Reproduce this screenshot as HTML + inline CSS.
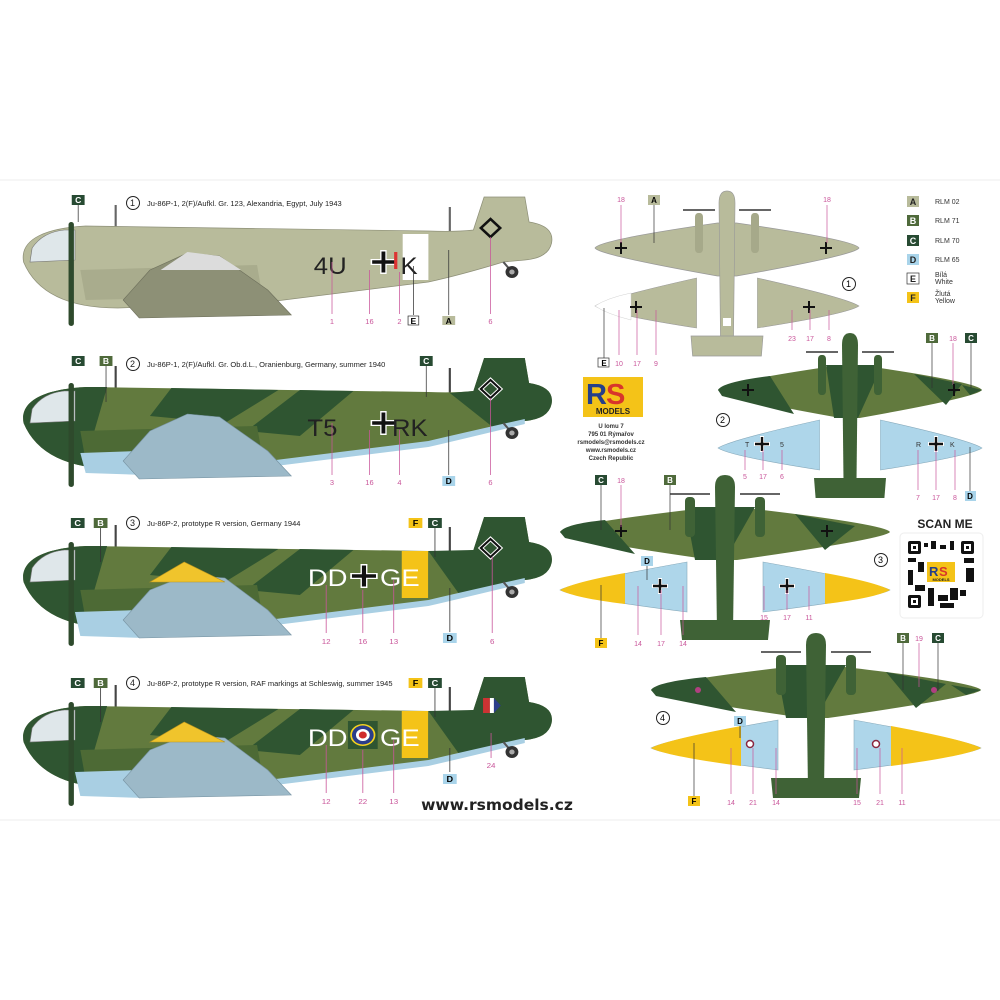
<!DOCTYPE html>
<html><head><meta charset="utf-8"><style>
html,body{margin:0;padding:0;background:#fff}
svg{display:block}
text{font-family:"Liberation Sans",sans-serif}
.t{font-size:7.5px;fill:#222}
.n{font-size:7px;fill:#c9559a;text-anchor:middle}
.lt{font-size:8px;font-weight:bold;text-anchor:middle;fill:#fff}
.ld{stroke:#c9559a;stroke-width:0.7}
.lk{stroke:#333;stroke-width:0.7}
</style></head><body>
<svg width="1000" height="1000" viewBox="0 0 1000 1000" xmlns="http://www.w3.org/2000/svg">
<rect width="1000" height="1000" fill="#fff"/>
<line x1="0" y1="180" x2="1000" y2="180" stroke="#eee"/>
<line x1="0" y1="820" x2="1000" y2="820" stroke="#eee"/>
<defs>
<symbol id="cross" viewBox="-12 -12 24 24" overflow="visible">
<path d="M-3,-12h6v9h9v6h-9v9h-6v-9h-9v-6h9z" fill="#fff"/>
<path d="M-1.8,-10.5h3.6v8.7h8.7v3.6h-8.7v8.7h-3.6v-8.7h-8.7v-3.6h8.7z" fill="#111"/>
</symbol>
<symbol id="sx" viewBox="-6 -6 12 12" overflow="visible">
<path d="M-1,-6h2v5h5v2h-5v5h-2v-5h-5v-2h5z" fill="#111"/>
</symbol>
<path id="body" d="M22,262 C18,238 45,228 80,226 L400,231 Q425,232 442,230 L452,197 L490,197 L494,222 Q518,226 515,243 Q512,258 490,260 L470,262 Q430,275 400,282 L250,302 L110,308 Q40,308 22,262 Z"/>
</defs>

<g transform="scale(1.071,1)">
<g>
<line x1="108" y1="205" x2="108" y2="230" stroke="#666" stroke-width="2"/>
<line x1="420" y1="207" x2="420" y2="232" stroke="#666" stroke-width="2"/>
<use href="#body" fill="#b8bb9b" stroke="#8e9078" stroke-width="0.7"/>
<path d="M30,248 Q40,232 60,230 L70,230 L70,260 L28,262 Z" fill="#dfe7ea" stroke="#777" stroke-width="0.6"/>
<rect x="376" y="234" width="24" height="46" fill="#fff"/>
<path d="M75,270 L240,265 L245,296 L80,300 Z" fill="#a9ac8d"/>
<path d="M115,300 L140,270 L175,253 L205,256 L250,290 L272,315 L130,318 Z" fill="#8d9076" stroke="#6e705c" stroke-width="0.6"/>
<path d="M150,270 L175,252 L205,256 L225,270 Z" fill="#dcdcdc"/>
<rect x="64" y="222" width="5" height="104" rx="2.5" fill="#2e4a2c"/>
<line x1="470" y1="262" x2="478" y2="272" stroke="#555" stroke-width="2"/>
<circle cx="478" cy="272" r="6" fill="#333"/><circle cx="478" cy="272" r="2.5" fill="#aaa"/>
<path d="M449,228 l9,-9 l9,9 l-9,9 z" fill="none" stroke="#111" stroke-width="2.5"/>
<text x="293" y="274" font-size="24" fill="#222">4U</text>
<use href="#cross" x="346" y="250" width="24" height="24"/>
<rect x="368" y="252" width="3" height="17" fill="#d33"/>
<text x="374" y="274" font-size="24" fill="#222">K</text>
</g>
<g transform="translate(0,161)">
<line x1="108" y1="205" x2="108" y2="230" stroke="#444" stroke-width="2"/>
<line x1="420" y1="207" x2="420" y2="232" stroke="#444" stroke-width="2"/>
<use href="#body" fill="#627a3e"/>
<path d="M22,262 C18,238 45,228 80,226 L100,226 L80,300 L110,308 Q40,308 22,262Z M160,227 L260,229 L210,262 L140,255Z M280,229 L330,230 L280,275 L230,270Z M420,232 L442,230 L452,197 L490,197 L494,222 Q518,226 515,243 Q512,258 490,260 L460,266 Z" fill="#2f5531"/>
<path d="M250,300 L400,280 Q440,270 490,258 L490,263 Q440,276 400,286 L250,306 Z" fill="#a9cfe3"/>
<path d="M30,248 Q40,232 60,230 L70,230 L70,260 L28,262 Z" fill="#dfe7ea" stroke="#777" stroke-width="0.6"/>
<path d="M75,270 L240,265 L245,296 L80,300 Z" fill="#4d6a35"/>
<path d="M75,292 L130,290 L135,314 L80,312 Z" fill="#a9cfe3"/>
<path d="M115,300 L140,270 L175,253 L205,256 L250,290 L272,315 L130,318 Z" fill="#9cb9c8" stroke="#7793a2" stroke-width="0.6"/>
<rect x="64" y="222" width="5" height="104" rx="2.5" fill="#2e4a2c"/>
<line x1="470" y1="262" x2="478" y2="272" stroke="#555" stroke-width="2"/>
<circle cx="478" cy="272" r="6" fill="#333"/><circle cx="478" cy="272" r="2.5" fill="#aaa"/>
<path d="M449,228 l9,-9 l9,9 l-9,9 z" fill="none" stroke="#fff" stroke-width="4"/>
<path d="M449,228 l9,-9 l9,9 l-9,9 z" fill="none" stroke="#111" stroke-width="2"/>
<text x="287" y="275" font-size="24" fill="#222">T5</text>
<use href="#cross" x="346" y="250" width="24" height="24"/>
<text x="366" y="275" font-size="24" fill="#222">RK</text>
</g>
<rect x="67" y="195" width="12" height="10" fill="#274a32"/><text class="lt" x="73" y="203">C</text>
<line class="lk" x1="73" y1="205" x2="73" y2="222"/>
<line class="ld" x1="310" y1="262" x2="310" y2="314"/><text class="n" x="310" y="324">1</text>
<line class="ld" x1="345" y1="270" x2="345" y2="314"/><text class="n" x="345" y="324">16</text>
<line class="ld" x1="373" y1="272" x2="373" y2="314"/><text class="n" x="373" y="324">2</text>
<line class="lk" x1="386" y1="266" x2="386" y2="315"/><rect x="381" y="316" width="10" height="9" fill="#fff" stroke="#333" stroke-width="0.7"/><text x="386" y="324" font-size="8" font-weight="bold" text-anchor="middle">E</text>
<line class="lk" x1="419" y1="250" x2="419" y2="315"/><rect x="413" y="316" width="12" height="9" fill="#b8bb9b"/><text x="419" y="324" font-size="8" font-weight="bold" text-anchor="middle">A</text>
<line class="ld" x1="458" y1="237" x2="458" y2="314"/><text class="n" x="458" y="324">6</text>
<rect x="67" y="356" width="12" height="10" fill="#274a32"/><text class="lt" x="73" y="364">C</text>
<rect x="93" y="356" width="12" height="10" fill="#4f6a3b"/><text class="lt" x="99" y="364">B</text>
<line class="lk" x1="99" y1="366" x2="99" y2="402"/>
<rect x="392" y="356" width="12" height="10" fill="#274a32"/><text class="lt" x="398" y="364">C</text>
<line class="lk" x1="398" y1="366" x2="398" y2="397"/>
<line class="ld" x1="310" y1="423" x2="310" y2="475"/><text class="n" x="310" y="485">3</text>
<line class="ld" x1="345" y1="430" x2="345" y2="475"/><text class="n" x="345" y="485">16</text>
<line class="ld" x1="373" y1="430" x2="373" y2="475"/><text class="n" x="373" y="485">4</text>
<line class="lk" x1="419" y1="430" x2="419" y2="475"/><rect x="413" y="476" width="12" height="10" fill="#a9d4ea"/><text x="419" y="484" font-size="8" font-weight="bold" text-anchor="middle">D</text>
<line class="ld" x1="458" y1="398" x2="458" y2="475"/><text class="n" x="458" y="485">6</text>
</g>

<g transform="scale(1.071,1)">
<g id="r3" transform="translate(0,320)">
<line x1="108" y1="205" x2="108" y2="230" stroke="#444" stroke-width="2"/>
<line x1="420" y1="207" x2="420" y2="232" stroke="#444" stroke-width="2"/>
<use href="#body" fill="#627a3e"/>
<path d="M22,262 C18,238 45,228 80,226 L100,226 L80,300 L110,308 Q40,308 22,262Z M160,227 L260,229 L210,262 L140,255Z M280,229 L330,230 L280,275 L230,270Z M400,231 L442,230 L452,197 L490,197 L494,222 Q518,226 515,243 Q512,258 490,260 L430,276 Z" fill="#2f5531"/>
<path d="M250,300 L400,280 Q440,270 490,258 L490,263 Q440,276 400,286 L250,306 Z" fill="#a9cfe3"/>
<path d="M30,248 Q40,232 60,230 L70,230 L70,260 L28,262 Z" fill="#dfe7ea" stroke="#777" stroke-width="0.6"/>
<path d="M75,270 L240,265 L245,296 L80,300 Z" fill="#4d6a35"/>
<path d="M70,292 L130,290 L135,318 L75,316 Z" fill="#a9cfe3"/>
<path d="M115,300 L140,270 L175,255 L210,258 L250,290 L272,315 L130,318 Z" fill="#9cb9c8" stroke="#7793a2" stroke-width="0.6"/>
<path d="M140,262 L172,242 L210,262 Z" fill="#f0c42c" stroke="#b69220" stroke-width="0.6"/>
<rect x="64" y="222" width="5" height="104" rx="2.5" fill="#2e4a2c"/>
<line x1="470" y1="262" x2="478" y2="272" stroke="#555" stroke-width="2"/>
<circle cx="478" cy="272" r="6" fill="#333"/><circle cx="478" cy="272" r="2.5" fill="#aaa"/>
</g>
<g transform="translate(0,320)">
<path d="M449,228 l9,-9 l9,9 l-9,9 z" fill="none" stroke="#fff" stroke-width="4"/>
<path d="M449,228 l9,-9 l9,9 l-9,9 z" fill="none" stroke="#111" stroke-width="2"/>
</g>
</g>
<use href="#r3" transform="translate(0,160) scale(1.071,1)"/>

<g transform="translate(1,0) scale(1.145,1)">
<g transform="translate(0,320)">
<rect x="350" y="231" width="23" height="47" fill="#f4c318"/>
<text x="268" y="266" font-size="24" fill="#fff">DD</text>
<use href="#cross" x="305" y="244" width="24" height="24"/>
<text x="331" y="266" font-size="24" fill="#fff">GE</text>
</g>
<g transform="translate(0,480)">
<rect x="350" y="231" width="23" height="47" fill="#f4c318"/>
<rect x="421" y="218" width="6" height="15" fill="#c33"/><rect x="427" y="218" width="3.5" height="15" fill="#fff"/><path d="M430.5,218 l6,7.5 l-6,7.5 z" fill="#2b3d8a"/>
<text x="268" y="266" font-size="24" fill="#fff">DD</text>
<rect x="303" y="241" width="26" height="28" fill="#2f5531"/>
<circle cx="316" cy="255" r="11" fill="#f4d21f"/><circle cx="316" cy="255" r="9.5" fill="#2b3d8a"/><circle cx="316" cy="255" r="6" fill="#fff"/><circle cx="316" cy="255" r="3.5" fill="#d02c2c"/>
<text x="331" y="266" font-size="24" fill="#fff">GE</text>
</g>
<rect x="61" y="518" width="12" height="10" fill="#274a32"/><text class="lt" x="67" y="526">C</text>
<rect x="81" y="518" width="12" height="10" fill="#4f6a3b"/><text class="lt" x="87" y="526">B</text>
<line class="lk" x1="87" y1="528" x2="87" y2="562"/>
<rect x="356" y="518" width="12" height="10" fill="#f4c318"/><text x="362" y="526" font-size="8" font-weight="bold" text-anchor="middle">F</text>
<rect x="373" y="518" width="12" height="10" fill="#274a32"/><text class="lt" x="379" y="526">C</text>
<line class="lk" x1="379" y1="528" x2="379" y2="557"/>
<line class="ld" x1="284" y1="585" x2="284" y2="633"/><text class="n" x="284" y="644">12</text>
<line class="ld" x1="316" y1="590" x2="316" y2="633"/><text class="n" x="316" y="644">16</text>
<line class="ld" x1="343" y1="580" x2="343" y2="633"/><text class="n" x="343" y="644">13</text>
<line class="lk" x1="392" y1="588" x2="392" y2="632"/><rect x="386" y="633" width="12" height="10" fill="#a9d4ea"/><text x="392" y="641" font-size="8" font-weight="bold" text-anchor="middle">D</text>
<line class="ld" x1="429" y1="557" x2="429" y2="633"/><text class="n" x="429" y="644">6</text>
<rect x="61" y="678" width="12" height="10" fill="#274a32"/><text class="lt" x="67" y="686">C</text>
<rect x="81" y="678" width="12" height="10" fill="#4f6a3b"/><text class="lt" x="87" y="686">B</text>
<line class="lk" x1="87" y1="688" x2="87" y2="722"/>
<rect x="356" y="678" width="12" height="10" fill="#f4c318"/><text x="362" y="686" font-size="8" font-weight="bold" text-anchor="middle">F</text>
<rect x="373" y="678" width="12" height="10" fill="#274a32"/><text class="lt" x="379" y="686">C</text>
<line class="lk" x1="379" y1="688" x2="379" y2="717"/>
<line class="ld" x1="284" y1="745" x2="284" y2="793"/><text class="n" x="284" y="804">12</text>
<line class="ld" x1="316" y1="750" x2="316" y2="793"/><text class="n" x="316" y="804">22</text>
<line class="ld" x1="343" y1="740" x2="343" y2="793"/><text class="n" x="343" y="804">13</text>
<line class="lk" x1="392" y1="748" x2="392" y2="772"/><rect x="386" y="774" width="12" height="10" fill="#a9d4ea"/><text x="392" y="782" font-size="8" font-weight="bold" text-anchor="middle">D</text>
<line class="ld" x1="428" y1="733" x2="428" y2="758"/><text class="n" x="428" y="768">24</text>
</g>

<g class="t">
<circle cx="133" cy="203" r="6.5" fill="none" stroke="#222"/><text x="130" y="206" font-size="9">1</text>
<text x="147" y="206">Ju-86P-1, 2(F)/Aufkl. Gr. 123, Alexandria, Egypt, July 1943</text>
<circle cx="133" cy="364" r="6.5" fill="none" stroke="#222"/><text x="130" y="367" font-size="9">2</text>
<text x="147" y="367">Ju-86P-1, 2(F)/Aufkl. Gr. Ob.d.L., Oranienburg, Germany, summer 1940</text>
<circle cx="133" cy="523" r="6.5" fill="none" stroke="#222"/><text x="130" y="526" font-size="9">3</text>
<text x="147" y="526">Ju-86P-2, prototype R version, Germany 1944</text>
<circle cx="133" cy="683" r="6.5" fill="none" stroke="#222"/><text x="130" y="686" font-size="9">4</text>
<text x="147" y="686">Ju-86P-2, prototype R version, RAF markings at Schleswig, summer 1945</text>
</g>

<defs>
<g id="wing"><path d="M-165,0 Q-160,-8 -12,-25 L12,-25 Q160,-8 165,0 Q160,7 12,28 L-12,28 Q-160,7 -165,0 Z"/></g>
<g id="fus"><path d="M-10,-45 Q-10,-57 0,-57 Q10,-57 10,-45 L8,100 L-8,100 Z"/><path d="M-45,88 L45,88 L43,108 L-43,108 Z"/></g>
<g id="eng"><rect x="-40" y="-35" width="10" height="40" rx="4"/><rect x="30" y="-35" width="10" height="40" rx="4"/></g>
<g id="props" stroke="#333" stroke-width="1.5"><line x1="-55" y1="-38" x2="-15" y2="-38"/><line x1="15" y1="-38" x2="55" y2="-38"/></g>
<path id="ul" d="M-165,58 Q-150,50 -38,30 L-38,80 Q-150,66 -165,58 Z"/>
<path id="ur" d="M165,58 Q150,50 38,30 L38,80 Q150,66 165,58 Z"/>
</defs>
<g transform="translate(727,248) scale(0.8,1)">
<use href="#wing" fill="#b8bb9b" stroke="#999" stroke-width="0.8"/>
<use href="#fus" fill="#b8bb9b" stroke="#999" stroke-width="0.8"/>
<use href="#eng" fill="#a6a98a"/>
<use href="#props"/>
<rect x="-5" y="70" width="10" height="8" fill="#fff"/>
<use href="#ul" fill="#b8bb9b" stroke="#999" stroke-width="0.6"/>
<use href="#ur" fill="#b8bb9b" stroke="#999" stroke-width="0.6"/>
<path d="M-165,58 Q-150,50 -120,45 L-120,72 Q-150,66 -165,58Z" fill="#fff" stroke="#ccc" stroke-width="0.5"/>
</g>
<use href="#sx" x="615" y="242" width="12" height="12"/><use href="#sx" x="820" y="242" width="12" height="12"/>
<use href="#sx" x="630" y="301" width="12" height="12"/><use href="#sx" x="803" y="301" width="12" height="12"/>
<g transform="translate(850,390) scale(0.8,1)">
<use href="#wing" fill="#627a3e"/>
<path d="M-165,0 Q-160,-8 -100,-14 L-70,24 L-160,6Z M-30,-25 L40,-25 L10,28 L-20,28Z M80,-16 L140,-6 L120,15 Z M140,-5 L165,0 L150,5 Z" fill="#2f5531"/>
<use href="#fus" fill="#3f6236"/>
<use href="#eng" fill="#3f6236"/>
<use href="#props"/>
<use href="#ul" fill="#aed6ea" stroke="#8ab" stroke-width="0.6"/>
<use href="#ur" fill="#aed6ea" stroke="#8ab" stroke-width="0.6"/>
</g>
<g transform="translate(725,532)">
<use href="#wing" fill="#627a3e"/>
<path d="M-165,0 Q-160,-8 -120,-12 L-90,22 L-160,6Z M-40,-25 L30,-25 L0,28 L-30,28Z M70,-18 L130,-6 L100,18 Z" fill="#2f5531"/>
<use href="#fus" fill="#3f6236"/>
<use href="#eng" fill="#3f6236"/>
<use href="#props"/>
<use href="#ul" fill="#aed6ea" stroke="#8ab" stroke-width="0.6"/>
<use href="#ur" fill="#aed6ea" stroke="#8ab" stroke-width="0.6"/>
<path d="M-165,58 Q-150,50 -100,41 L-100,72 Q-150,66 -165,58Z" fill="#f4c318"/>
<path d="M165,58 Q150,50 100,41 L100,72 Q150,66 165,58Z" fill="#f4c318"/>
</g>
<use href="#sx" x="615" y="525" width="12" height="12"/><use href="#sx" x="821" y="525" width="12" height="12"/>
<use href="#cross" x="652" y="578" width="16" height="16"/><use href="#cross" x="779" y="578" width="16" height="16"/>
<g transform="translate(816,690)">
<use href="#wing" fill="#627a3e"/>
<path d="M-165,0 Q-160,-8 -110,-13 L-80,22 L-160,6Z M-40,-25 L30,-25 L0,28 L-30,28Z M70,-18 L130,-6 L100,18 Z M135,-5 L165,0 L150,5Z" fill="#2f5531"/>
<use href="#fus" fill="#3f6236"/>
<use href="#eng" fill="#3f6236"/>
<use href="#props"/>
<circle cx="-118" cy="0" r="3" fill="#b04080"/><circle cx="118" cy="0" r="3" fill="#b04080"/>
<use href="#ul" fill="#aed6ea" stroke="#8ab" stroke-width="0.6"/>
<use href="#ur" fill="#aed6ea" stroke="#8ab" stroke-width="0.6"/>
<path d="M-165,58 Q-150,50 -75,36 L-75,76 Q-150,66 -165,58Z" fill="#f4c318"/>
<path d="M165,58 Q150,50 75,36 L75,76 Q150,66 165,58Z" fill="#f4c318"/>
<circle cx="-66" cy="54" r="3.5" fill="#fff" stroke="#8a2840" stroke-width="1.5"/>
<circle cx="60" cy="54" r="3.5" fill="#fff" stroke="#8a2840" stroke-width="1.5"/>
</g>

<g>
<line class="ld" x1="621" y1="205" x2="621" y2="243"/><text class="n" x="621" y="202">18</text>
<rect x="648" y="195" width="12" height="10" fill="#b8bb9b"/><text x="654" y="203" font-size="8" font-weight="bold" text-anchor="middle">A</text>
<line class="lk" x1="654" y1="205" x2="654" y2="243"/>
<line class="ld" x1="827" y1="205" x2="827" y2="243"/><text class="n" x="827" y="202">18</text>
<circle cx="849" cy="284" r="6.5" fill="none" stroke="#222"/><text x="846" y="287" font-size="9">1</text>
<line class="lk" x1="604" y1="308" x2="604" y2="358"/><rect x="598" y="358" width="11" height="9" fill="#fff" stroke="#333" stroke-width="0.7"/><text x="604" y="366" font-size="8" font-weight="bold" text-anchor="middle">E</text>
<line class="ld" x1="619" y1="310" x2="619" y2="355"/><text class="n" x="619" y="366">10</text>
<line class="ld" x1="637" y1="310" x2="637" y2="355"/><text class="n" x="637" y="366">17</text>
<line class="ld" x1="656" y1="310" x2="656" y2="355"/><text class="n" x="656" y="366">9</text>
<line class="ld" x1="792" y1="310" x2="792" y2="330"/><text class="n" x="792" y="341">23</text>
<line class="ld" x1="810" y1="310" x2="810" y2="330"/><text class="n" x="810" y="341">17</text>
<line class="ld" x1="829" y1="310" x2="829" y2="330"/><text class="n" x="829" y="341">8</text>
<rect x="926" y="333" width="12" height="10" fill="#4f6a3b"/><text class="lt" x="932" y="341">B</text>
<line class="lk" x1="932" y1="343" x2="932" y2="388"/>
<text class="n" x="953" y="341">18</text><line class="ld" x1="953" y1="343" x2="953" y2="385"/>
<rect x="965" y="333" width="12" height="10" fill="#274a32"/><text class="lt" x="971" y="341">C</text>
<line class="lk" x1="971" y1="343" x2="971" y2="388"/>
<use href="#sx" x="742" y="384" width="12" height="12"/><use href="#sx" x="948" y="384" width="12" height="12"/>
<circle cx="723" cy="420" r="6.5" fill="none" stroke="#222"/><text x="720" y="423" font-size="9">2</text>
<text x="745" y="447" font-size="7" fill="#333">T</text><use href="#cross" x="754" y="436" width="16" height="16"/><text x="780" y="447" font-size="7" fill="#333">5</text>
<text x="916" y="447" font-size="7" fill="#333">R</text><use href="#cross" x="928" y="436" width="16" height="16"/><text x="950" y="447" font-size="7" fill="#333">K</text>
<line class="ld" x1="745" y1="450" x2="745" y2="470"/><text class="n" x="745" y="479">5</text>
<line class="ld" x1="763" y1="450" x2="763" y2="470"/><text class="n" x="763" y="479">17</text>
<line class="ld" x1="782" y1="450" x2="782" y2="470"/><text class="n" x="782" y="479">6</text>
<line class="ld" x1="918" y1="450" x2="918" y2="490"/><text class="n" x="918" y="500">7</text>
<line class="ld" x1="936" y1="450" x2="936" y2="490"/><text class="n" x="936" y="500">17</text>
<line class="ld" x1="955" y1="450" x2="955" y2="490"/><text class="n" x="955" y="500">8</text>
<line class="lk" x1="970" y1="447" x2="970" y2="491"/><rect x="965" y="491" width="11" height="10" fill="#a9d4ea"/><text x="970" y="499" font-size="8" font-weight="bold" text-anchor="middle">D</text>
<rect x="595" y="475" width="12" height="10" fill="#274a32"/><text class="lt" x="601" y="483">C</text>
<line class="lk" x1="601" y1="485" x2="601" y2="530"/>
<text class="n" x="621" y="483">18</text><line class="ld" x1="621" y1="485" x2="621" y2="527"/>
<rect x="664" y="475" width="12" height="10" fill="#4f6a3b"/><text class="lt" x="670" y="483">B</text>
<line class="lk" x1="670" y1="485" x2="670" y2="530"/>
<circle cx="881" cy="560" r="6.5" fill="none" stroke="#222"/><text x="878" y="563" font-size="9">3</text>
<rect x="641" y="556" width="12" height="10" fill="#a9d4ea"/><text x="647" y="564" font-size="8" font-weight="bold" text-anchor="middle">D</text>
<line class="lk" x1="647" y1="566" x2="647" y2="580"/>
<line class="lk" x1="601" y1="585" x2="601" y2="638"/><rect x="595" y="638" width="12" height="10" fill="#f4c318"/><text x="601" y="646" font-size="8" font-weight="bold" text-anchor="middle">F</text>
<line class="ld" x1="638" y1="586" x2="638" y2="635"/><text class="n" x="638" y="646">14</text>
<line class="ld" x1="661" y1="590" x2="661" y2="635"/><text class="n" x="661" y="646">17</text>
<line class="ld" x1="683" y1="586" x2="683" y2="635"/><text class="n" x="683" y="646">14</text>
<line class="ld" x1="764" y1="586" x2="764" y2="610"/><text class="n" x="764" y="620">15</text>
<line class="ld" x1="787" y1="590" x2="787" y2="610"/><text class="n" x="787" y="620">17</text>
<line class="ld" x1="809" y1="586" x2="809" y2="610"/><text class="n" x="809" y="620">11</text>
<rect x="897" y="633" width="12" height="10" fill="#4f6a3b"/><text class="lt" x="903" y="641">B</text>
<line class="lk" x1="903" y1="643" x2="903" y2="690"/>
<text class="n" x="919" y="641">19</text><line class="ld" x1="919" y1="643" x2="919" y2="687"/>
<rect x="932" y="633" width="12" height="10" fill="#274a32"/><text class="lt" x="938" y="641">C</text>
<line class="lk" x1="938" y1="643" x2="938" y2="691"/>
<circle cx="663" cy="718" r="6.5" fill="none" stroke="#222"/><text x="660" y="721" font-size="9">4</text>
<rect x="734" y="716" width="12" height="10" fill="#a9d4ea"/><text x="740" y="724" font-size="8" font-weight="bold" text-anchor="middle">D</text>
<line class="lk" x1="740" y1="726" x2="740" y2="738"/>
<line class="lk" x1="694" y1="743" x2="694" y2="796"/><rect x="688" y="796" width="12" height="10" fill="#f4c318"/><text x="694" y="804" font-size="8" font-weight="bold" text-anchor="middle">F</text>
<line class="ld" x1="731" y1="748" x2="731" y2="794"/><text class="n" x="731" y="805">14</text>
<line class="ld" x1="753" y1="748" x2="753" y2="794"/><text class="n" x="753" y="805">21</text>
<line class="ld" x1="776" y1="748" x2="776" y2="794"/><text class="n" x="776" y="805">14</text>
<line class="ld" x1="857" y1="748" x2="857" y2="794"/><text class="n" x="857" y="805">15</text>
<line class="ld" x1="880" y1="748" x2="880" y2="794"/><text class="n" x="880" y="805">21</text>
<line class="ld" x1="902" y1="748" x2="902" y2="794"/><text class="n" x="902" y="805">11</text>
</g>

<g font-size="7" fill="#333">
<rect x="907" y="196" width="12" height="11" fill="#b8bb9b"/><text x="913" y="205" font-size="9" font-weight="bold" text-anchor="middle" fill="#222">A</text><text x="935" y="204">RLM 02</text>
<rect x="907" y="215" width="12" height="11" fill="#4f6a3b"/><text x="913" y="224" font-size="9" font-weight="bold" text-anchor="middle" fill="#fff">B</text><text x="935" y="223">RLM 71</text>
<rect x="907" y="235" width="12" height="11" fill="#274a32"/><text x="913" y="244" font-size="9" font-weight="bold" text-anchor="middle" fill="#fff">C</text><text x="935" y="243">RLM 70</text>
<rect x="907" y="254" width="12" height="11" fill="#a9d4ea"/><text x="913" y="263" font-size="9" font-weight="bold" text-anchor="middle" fill="#222">D</text><text x="935" y="262">RLM 65</text>
<rect x="907" y="273" width="12" height="11" fill="#fff" stroke="#333" stroke-width="0.7"/><text x="913" y="282" font-size="9" font-weight="bold" text-anchor="middle" fill="#222">E</text><text x="935" y="277">Bílá</text><text x="935" y="284">White</text>
<rect x="907" y="292" width="12" height="11" fill="#f4c318"/><text x="913" y="301" font-size="9" font-weight="bold" text-anchor="middle" fill="#222">F</text><text x="935" y="296">Žlutá</text><text x="935" y="303">Yellow</text>
</g>

<rect x="583" y="377" width="60" height="40" fill="#f4c318"/>
<text x="586" y="404" font-size="29" font-weight="bold" fill="#253f8a">R</text>
<text x="606" y="404" font-size="29" font-weight="bold" fill="#d8362b">S</text>
<text x="613" y="414" font-size="8" font-weight="bold" fill="#222" text-anchor="middle">MODELS</text>
<g font-size="6" font-weight="bold" fill="#333" text-anchor="middle">
<text x="611" y="428">U lomu 7</text>
<text x="611" y="436">795 01 Rýmařov</text>
<text x="611" y="444">rsmodels@rsmodels.cz</text>
<text x="611" y="452">www.rsmodels.cz</text>
<text x="611" y="460">Czech Republic</text>
</g>

<text x="945" y="528" font-size="12" font-weight="bold" text-anchor="middle" fill="#222">SCAN ME</text>
<rect x="900" y="533" width="83" height="85" rx="4" fill="#fff" stroke="#eee"/>
<g fill="#111">
<rect x="908" y="541" width="13" height="13" rx="2"/><rect x="961" y="541" width="13" height="13" rx="2"/><rect x="908" y="595" width="13" height="13" rx="2"/>
<rect x="924" y="543" width="4" height="4"/><rect x="931" y="541" width="5" height="8"/><rect x="940" y="545" width="6" height="4"/><rect x="950" y="541" width="4" height="9"/>
<rect x="908" y="558" width="8" height="4"/><rect x="918" y="562" width="6" height="10"/><rect x="908" y="570" width="5" height="15"/><rect x="964" y="558" width="10" height="5"/><rect x="966" y="568" width="8" height="14"/>
<rect x="915" y="585" width="10" height="6"/><rect x="928" y="588" width="6" height="18"/><rect x="938" y="595" width="10" height="6"/><rect x="950" y="588" width="8" height="12"/><rect x="960" y="590" width="6" height="6"/><rect x="940" y="603" width="14" height="5"/>
</g>
<g fill="#fff"><rect x="911" y="544" width="7" height="7"/><rect x="964" y="544" width="7" height="7"/><rect x="911" y="598" width="7" height="7"/></g>
<g fill="#111"><rect x="913" y="546" width="3" height="3"/><rect x="966" y="546" width="3" height="3"/><rect x="913" y="600" width="3" height="3"/></g>
<rect x="927" y="562" width="28" height="20" fill="#f4c318"/>
<text x="929" y="576" font-size="13" font-weight="bold" fill="#253f8a">R</text><text x="939" y="576" font-size="13" font-weight="bold" fill="#d8362b">S</text>
<text x="941" y="581" font-size="4" font-weight="bold" text-anchor="middle" fill="#222">MODELS</text>

<text x="497" y="810" style="font-family:'DejaVu Sans',sans-serif;font-size:15.5px;font-weight:bold" text-anchor="middle" fill="#222">www.rsmodels.cz</text>
</svg>
</body></html>
